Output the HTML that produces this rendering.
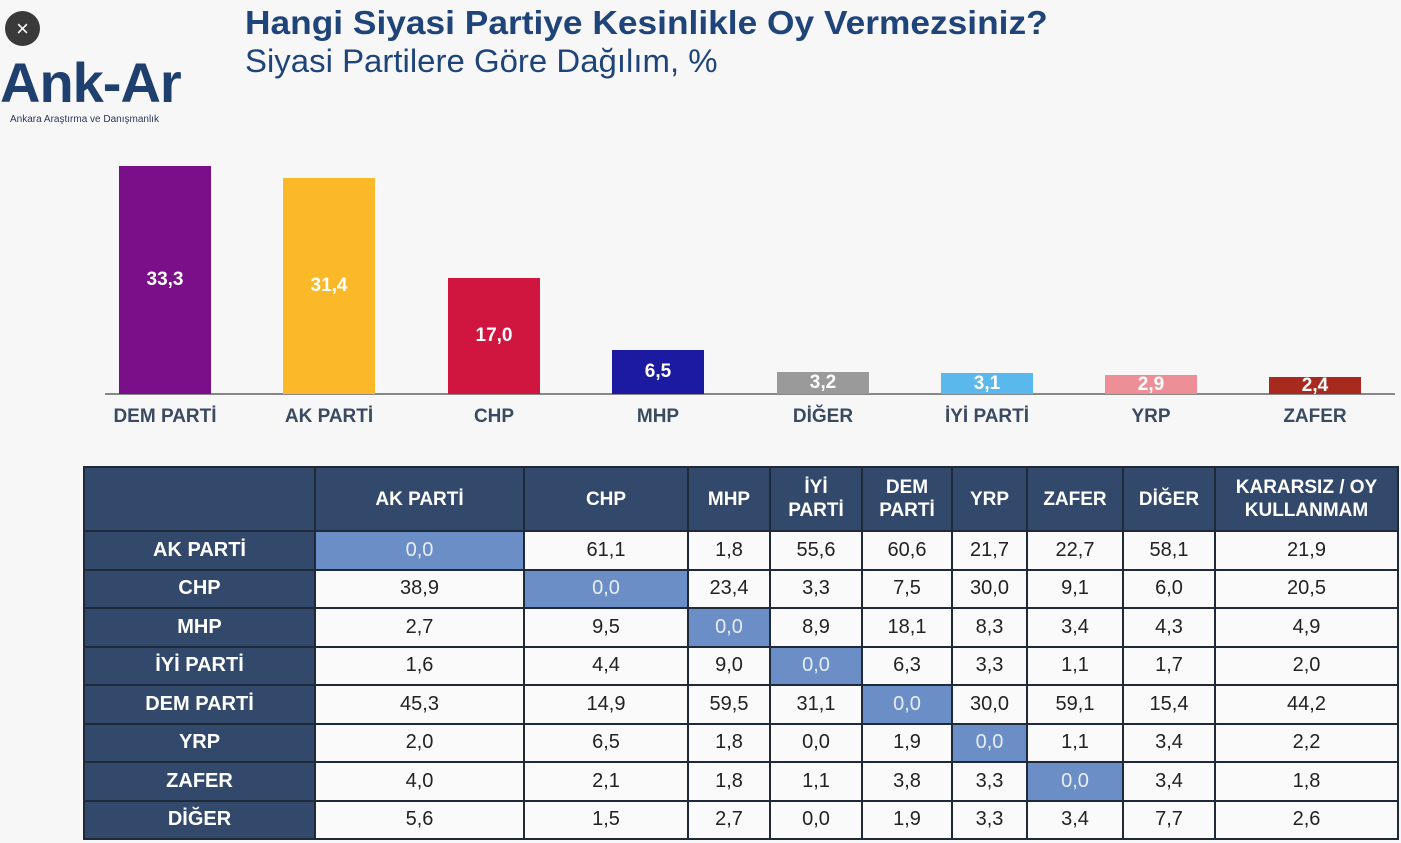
<!DOCTYPE html>
<html><head><meta charset="utf-8"><style>
body{margin:0;width:1401px;height:843px;background:#f7f7f8;font-family:"Liberation Sans",sans-serif;position:relative;overflow:hidden}
.a{position:absolute}
.t1{left:245px;top:4px;font-size:33px;font-weight:bold;color:#1f4479;white-space:nowrap;transform:scaleX(1.07);transform-origin:left}
.t2{left:245px;top:43px;font-size:32px;color:#1f4479;white-space:nowrap;transform:scaleX(1.03);transform-origin:left}
.bar{position:absolute;bottom:449px;width:92px;color:#fff;font-weight:bold;font-size:19px;text-align:center}
.lbl{position:absolute;top:406px;width:160px;text-align:center;font-weight:bold;font-size:19px;color:#3a4a60}
table{position:absolute;left:83px;top:466px;border-collapse:collapse;font-size:20px}
td{border:2px solid #1e2a3a;text-align:center;height:36.5px;padding:0;color:#222;background:#fafafa}
td.h{background:#33496b;color:#fff;font-weight:bold}
td.d{background:#6a8ec5;color:#e8eef8}
tr.hd td{height:62px;font-size:19px;line-height:23px}
</style></head><body>
<div class="a" style="left:5px;top:11px;width:35px;height:35px;border-radius:50%;background:#3a3a3a;color:#fff;font-size:22px;text-align:center;line-height:35px">×</div>
<div class="a" style="left:0px;top:50px;font-size:56px;font-weight:bold;color:#1f3f6e;letter-spacing:-1px">Ank-Ar</div>
<div class="a" style="left:10px;top:114px;font-size:10px;color:#2a3a5a">Ankara Araştırma ve Danışmanlık</div>
<div class="a t1">Hangi Siyasi Partiye Kesinlikle Oy Vermezsiniz?</div>
<div class="a t2">Siyasi Partilere Göre Dağılım, %</div>
<div class="a" style="left:105px;top:393px;width:1290px;height:2px;background:#888"></div>
<div class="bar" style="left:119px;height:228px;background:#7b0f8a;line-height:228px">33,3</div>
<div class="bar" style="left:283px;height:216px;background:#fbb829;line-height:216px">31,4</div>
<div class="bar" style="left:448px;height:116px;background:#d0153f;line-height:116px">17,0</div>
<div class="bar" style="left:612px;height:44px;background:#1c1aa0;line-height:44px">6,5</div>
<div class="bar" style="left:777px;height:22px;background:#9a9a9a;line-height:22px">3,2</div>
<div class="bar" style="left:941px;height:21px;background:#5bb8ec;line-height:21px">3,1</div>
<div class="bar" style="left:1105px;height:19px;background:#ee8f98;line-height:19px">2,9</div>
<div class="bar" style="left:1269px;height:17px;background:#a82a1e;line-height:17px">2,4</div>
<div class="lbl" style="left:85px">DEM PARTİ</div>
<div class="lbl" style="left:249px">AK PARTİ</div>
<div class="lbl" style="left:414px">CHP</div>
<div class="lbl" style="left:578px">MHP</div>
<div class="lbl" style="left:743px">DİĞER</div>
<div class="lbl" style="left:907px">İYİ PARTİ</div>
<div class="lbl" style="left:1071px">YRP</div>
<div class="lbl" style="left:1235px">ZAFER</div>
<table>
<colgroup><col style="width:231px"><col style="width:209px"><col style="width:164px"><col style="width:82px"><col style="width:92px"><col style="width:90px"><col style="width:75px"><col style="width:96px"><col style="width:92px"><col style="width:183px"></colgroup>
<tr class="hd"><td class="h"></td><td class="h">AK PARTİ</td><td class="h">CHP</td><td class="h">MHP</td><td class="h">İYİ<br>PARTİ</td><td class="h">DEM<br>PARTİ</td><td class="h">YRP</td><td class="h">ZAFER</td><td class="h">DİĞER</td><td class="h">KARARSIZ / OY<br>KULLANMAM</td></tr>
<tr><td class="h">AK PARTİ</td><td class="d">0,0</td><td>61,1</td><td>1,8</td><td>55,6</td><td>60,6</td><td>21,7</td><td>22,7</td><td>58,1</td><td>21,9</td></tr>
<tr><td class="h">CHP</td><td>38,9</td><td class="d">0,0</td><td>23,4</td><td>3,3</td><td>7,5</td><td>30,0</td><td>9,1</td><td>6,0</td><td>20,5</td></tr>
<tr><td class="h">MHP</td><td>2,7</td><td>9,5</td><td class="d">0,0</td><td>8,9</td><td>18,1</td><td>8,3</td><td>3,4</td><td>4,3</td><td>4,9</td></tr>
<tr><td class="h">İYİ PARTİ</td><td>1,6</td><td>4,4</td><td>9,0</td><td class="d">0,0</td><td>6,3</td><td>3,3</td><td>1,1</td><td>1,7</td><td>2,0</td></tr>
<tr><td class="h">DEM PARTİ</td><td>45,3</td><td>14,9</td><td>59,5</td><td>31,1</td><td class="d">0,0</td><td>30,0</td><td>59,1</td><td>15,4</td><td>44,2</td></tr>
<tr><td class="h">YRP</td><td>2,0</td><td>6,5</td><td>1,8</td><td>0,0</td><td>1,9</td><td class="d">0,0</td><td>1,1</td><td>3,4</td><td>2,2</td></tr>
<tr><td class="h">ZAFER</td><td>4,0</td><td>2,1</td><td>1,8</td><td>1,1</td><td>3,8</td><td>3,3</td><td class="d">0,0</td><td>3,4</td><td>1,8</td></tr>
<tr><td class="h">DİĞER</td><td>5,6</td><td>1,5</td><td>2,7</td><td>0,0</td><td>1,9</td><td>3,3</td><td>3,4</td><td>7,7</td><td>2,6</td></tr>
</table>
</body></html>
